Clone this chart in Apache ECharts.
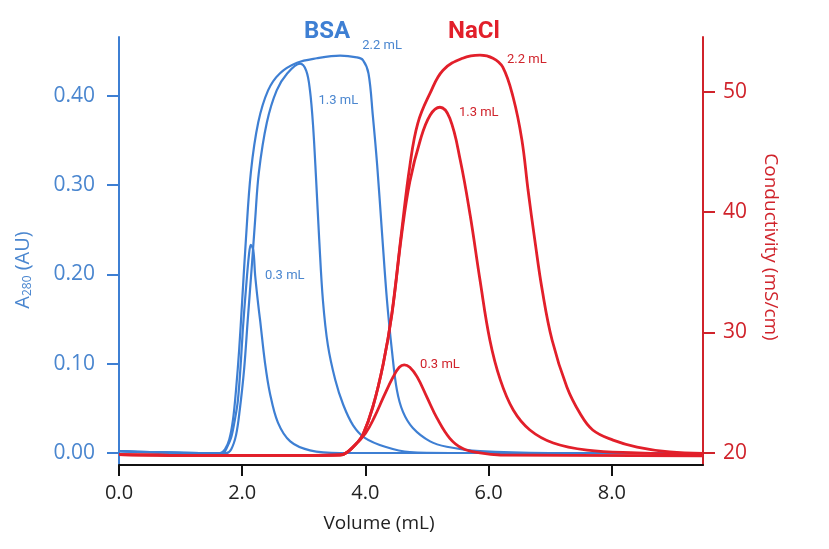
<!DOCTYPE html>
<html><head><meta charset="utf-8">
<script src="https://cdn.jsdelivr.net/npm/echarts@6/dist/echarts.min.js"></script>
<style>html,body{margin:0;padding:0;background:#fff}#c{width:829px;height:549px}</style>
</head><body><div id="c"></div>
<script>
// ---- tick labels ----
const xTicks = [0, 2, 4, 6, 8];
const absTicks = [0, 0.1, 0.2, 0.3, 0.4];
const condTicks = [20, 30, 40, 50];

// ---- BSA (A280, AU) vs volume (mL) ----
const bsa22 = [[0,0.002],[0.5,0.001],[1.31,0],[1.64,0],[1.72,0.004],[1.79,0.015],[1.85,0.037],[1.90,0.071],[1.95,0.115],[2.00,0.171],[2.06,0.239],[2.14,0.314],[2.26,0.370],[2.42,0.406],[2.61,0.425],[2.89,0.437],[3.21,0.442],[3.59,0.445],[3.86,0.443],[3.96,0.440],[4.05,0.425],[4.12,0.378],[4.19,0.323],[4.27,0.246],[4.35,0.171],[4.43,0.115],[4.51,0.071],[4.61,0.046],[4.77,0.028],[5.05,0.013],[5.32,0.007],[5.86,0.002],[6.99,0],[9.48,0]];
const bsa13 = [[0,0.002],[0.5,0.001],[1.31,0],[1.74,0],[1.82,0.004],[1.90,0.020],[1.96,0.048],[2.03,0.093],[2.09,0.149],[2.16,0.213],[2.21,0.261],[2.27,0.314],[2.40,0.370],[2.56,0.406],[2.73,0.425],[2.94,0.436],[3.04,0.428],[3.10,0.406],[3.15,0.367],[3.20,0.306],[3.25,0.239],[3.31,0.171],[3.39,0.121],[3.51,0.082],[3.64,0.054],[3.80,0.031],[3.99,0.017],[4.32,0.007],[4.72,0.001],[5.37,0],[9.48,0]];
const bsa03 = [[0,0.002],[0.5,0.001],[1.31,0],[1.69,0],[1.75,0.006],[1.82,0.017],[1.88,0.037],[1.93,0.059],[1.98,0.104],[2.01,0.138],[2.06,0.183],[2.11,0.222],[2.14,0.233],[2.18,0.227],[2.21,0.199],[2.26,0.166],[2.29,0.149],[2.37,0.101],[2.45,0.067],[2.58,0.034],[2.78,0.013],[3.10,0.003],[3.59,0],[9.48,0]];

// ---- NaCl (conductivity, mS/cm) vs volume (mL) ----
const nacl22 = [[0,19.85],[1.5,19.78],[3.0,19.78],[3.59,19.82],[3.72,20.1],[3.86,20.8],[3.96,21.5],[4.12,23.8],[4.29,27.4],[4.43,31.6],[4.59,38.5],[4.72,43.8],[4.85,47.38],[5.05,49.88],[5.26,51.79],[5.58,52.79],[5.86,53.04],[6.07,52.79],[6.23,52.04],[6.40,49.5],[6.54,46.0],[6.64,41.83],[6.75,37.67],[6.87,33.52],[7.03,29.37],[7.27,25.46],[7.48,23.30],[7.69,21.89],[8.02,21.05],[8.41,20.47],[8.94,20.06],[9.48,19.95]];
const nacl13 = [[0,19.85],[1.5,19.78],[3.0,19.78],[3.59,19.82],[3.72,20.1],[3.86,20.8],[3.96,21.5],[4.12,23.8],[4.29,27.4],[4.43,31.5],[4.59,38.2],[4.72,42.5],[4.89,45.97],[5.05,48.04],[5.21,48.71],[5.37,47.79],[5.54,44.31],[5.70,39.75],[5.86,34.35],[6.02,29.37],[6.19,26.05],[6.40,23.55],[6.67,21.89],[7.05,20.81],[7.60,20.22],[8.41,19.98],[9.48,19.81]];
const nacl03 = [[0,19.85],[1.5,19.78],[3.0,19.78],[3.59,19.8],[3.80,20.5],[4.00,21.6],[4.15,23.0],[4.30,24.7],[4.45,26.3],[4.55,27.1],[4.63,27.3],[4.72,27.1],[4.84,26.3],[5.00,24.6],[5.16,22.9],[5.37,21.2],[5.58,20.35],[5.86,19.98],[6.19,19.81],[9.48,19.75]];

// ---- curve annotations (data coordinates) ----
const bsaLabels = [['2.2 mL',4.27,0.456],['1.3 mL',3.56,0.394],['0.3 mL',2.69,0.199]];
const naclLabels = [['2.2 mL',6.62,52.70],['1.3 mL',5.84,48.29],['0.3 mL',5.21,27.28]];

const BLUE = '#3e7fd3', BLUE_TXT = '#4a86cf', RED = '#e21f2a', RED_AX = '#d0232b';
const chart = echarts.init(document.getElementById('c'));

function mp(lbl, color) {
  return {
    symbol: 'circle', symbolSize: 0, silent: true,
    label: { show: true, position: 'inside', formatter: '{b}', color: color, fontSize: 13, fontFamily: 'Roboto' },
    data: [{ name: lbl[0], coord: [lbl[1], lbl[2]] }]
  };
}
function blueSeries(name, data, lbl) {
  return { name, type: 'line', xAxisIndex: 0, yAxisIndex: 0, data, showSymbol: false, symbol: 'none',
    smooth: 0.35, lineStyle: { color: BLUE, width: 2.2 }, z: 2, markPoint: mp(lbl, BLUE_TXT) };
}
function redSeries(name, data, lbl) {
  return { name, type: 'line', xAxisIndex: 0, yAxisIndex: 1, data, showSymbol: false, symbol: 'none',
    smooth: 0.4, lineStyle: { color: RED, width: 2.8 }, z: 3, markPoint: mp(lbl, RED_AX) };
}

chart.setOption({
  animation: false,
  backgroundColor: '#fff',
  grid: { left: 119, right: 126, top: 37, bottom: 84 },
  xAxis: {
    type: 'value', min: 0, max: 9.48,
    axisLine: { show: true, onZero: false, lineStyle: { color: '#111', width: 2 } },
    axisTick: { show: true, length: 11, lineStyle: { color: '#111', width: 2 }, customValues: xTicks },
    axisLabel: { customValues: xTicks, formatter: v => v.toFixed(1), color: '#222', fontSize: 20, fontFamily: 'Open Sans', margin: 18 },
    splitLine: { show: false }
  },
  yAxis: [
    {
      type: 'value', position: 'left', min: -0.01344, max: 0.4658,
      axisLine: { show: true, onZero: false, lineStyle: { color: BLUE, width: 2 } },
      axisTick: { show: true, length: 12, lineStyle: { color: BLUE, width: 2 }, customValues: absTicks },
      axisLabel: { customValues: absTicks, formatter: v => v.toFixed(2), color: BLUE_TXT, fontSize: 21, fontFamily: 'Open Sans', margin: 24 },
      splitLine: { show: false }
    },
    {
      type: 'value', position: 'right', min: 18.98, max: 54.55,
      axisLine: { show: true, onZero: false, lineStyle: { color: RED_AX, width: 2 } },
      axisTick: { show: true, length: 12, lineStyle: { color: RED_AX, width: 2 }, customValues: condTicks },
      axisLabel: { customValues: condTicks, formatter: v => String(v), color: RED_AX, fontSize: 21, fontFamily: 'Open Sans', margin: 20 },
      splitLine: { show: false }
    }
  ],
  series: [
    blueSeries('BSA 0.3 mL', bsa03, bsaLabels[2]),
    blueSeries('BSA 1.3 mL', bsa13, bsaLabels[1]),
    blueSeries('BSA 2.2 mL', bsa22, bsaLabels[0]),
    redSeries('NaCl 0.3 mL', nacl03, naclLabels[2]),
    redSeries('NaCl 1.3 mL', nacl13, naclLabels[1]),
    redSeries('NaCl 2.2 mL', nacl22, naclLabels[0])
  ],
  graphic: [
    { type: 'text', x: 327, y: 32, style: { text: 'BSA', fill: BLUE, font: 'bold 24px Roboto', align: 'center', verticalAlign: 'middle' } },
    { type: 'text', x: 474, y: 32, style: { text: 'NaCl', fill: RED, font: 'bold 24px Roboto', align: 'center', verticalAlign: 'middle' } },
    { type: 'text', x: 379, y: 524, style: { text: 'Volume (mL)', fill: '#222', font: '19px "Open Sans"', align: 'center', verticalAlign: 'middle' } },
    { type: 'text', x: 23, y: 270, rotation: Math.PI / 2,
      style: { text: '{a|A}{s|280}{a| (AU)}', align: 'center', verticalAlign: 'middle',
        rich: { a: { fill: BLUE_TXT, fontSize: 20, fontFamily: 'Open Sans' }, s: { fill: BLUE_TXT, fontSize: 12, fontFamily: 'Open Sans', padding: [10, 0, 0, 0] } } } },
    { type: 'text', x: 770, y: 247, rotation: -Math.PI / 2,
      style: { text: 'Conductivity (mS/cm)', fill: RED_AX, font: '19px "Open Sans"', align: 'center', verticalAlign: 'middle' } }
  ]
});
</script>
</body></html>
